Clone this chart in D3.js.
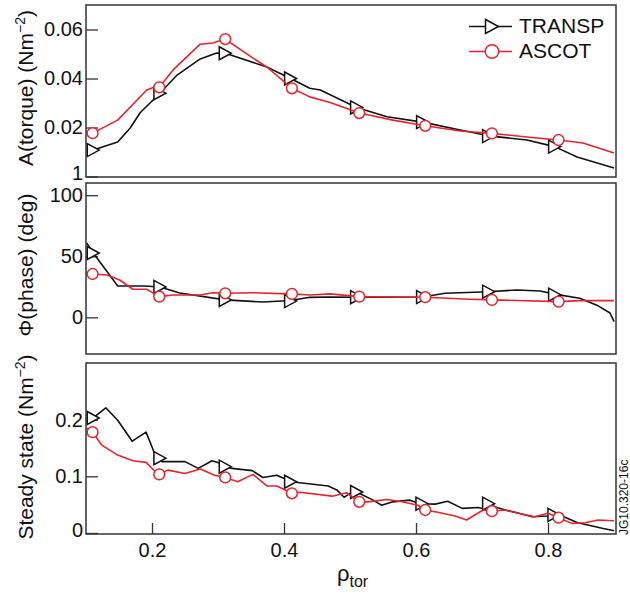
<!DOCTYPE html>
<html><head><meta charset="utf-8">
<script src="https://cdn.jsdelivr.net/npm/d3@7"></script>
<style>
body{margin:0;background:#fff}
text{font-family:"Liberation Sans",Arial,Helvetica,sans-serif;fill:#111}
</style>
</head><body>
<svg id="c" width="630" height="595"></svg>
<script>
// ---------------- data ----------------
const seriesNames = ["TRANSP", "ASCOT"];
const rhoTicks = [0.2, 0.4, 0.6, 0.8];
const rhoTickLabels = ["0.2", "0.4", "0.6", "0.8"];
const torqueTicks = [0, 0.02, 0.04, 0.06];
const torqueTickLabels = ["1", "0.02", "0.04", "0.06"];
const phaseTicks = [0, 50, 100];
const phaseTickLabels = ["0", "50", "100"];
const steadyTicks = [0, 0.1, 0.2];
const steadyTickLabels = ["0", "0.1", "0.2"];

const torqueTRANSP = [[0.101,0.0100],[0.111,0.0108],[0.148,0.0141],[0.167,0.0198],[0.182,0.0260],[0.212,0.0340],[0.238,0.0414],[0.273,0.0480],[0.298,0.0504],[0.311,0.0503],[0.374,0.0447],[0.410,0.0400],[0.439,0.0360],[0.455,0.0353],[0.510,0.0282],[0.556,0.0244],[0.610,0.0222],[0.667,0.0190],[0.710,0.0166],[0.768,0.0149],[0.810,0.0122],[0.844,0.0080],[0.900,0.0035]];
const torqueASCOT = [[0.101,0.0183],[0.110,0.0177],[0.148,0.0230],[0.192,0.0353],[0.204,0.0365],[0.211,0.0364],[0.232,0.0435],[0.273,0.0540],[0.292,0.0545],[0.311,0.0561],[0.353,0.0483],[0.374,0.0447],[0.412,0.0360],[0.439,0.0325],[0.470,0.0302],[0.514,0.0259],[0.565,0.0230],[0.614,0.0207],[0.667,0.0186],[0.715,0.0176],[0.768,0.0161],[0.816,0.0149],[0.853,0.0137],[0.900,0.0096]];
const torqueTRANSPMarks = [[0.111,0.0108],[0.212,0.0340],[0.311,0.0503],[0.410,0.0400],[0.510,0.0282],[0.610,0.0222],[0.710,0.0165],[0.810,0.0122]];
const torqueASCOTMarks = [[0.110,0.0177],[0.211,0.0364],[0.311,0.0561],[0.412,0.0360],[0.514,0.0259],[0.614,0.0207],[0.715,0.0176],[0.816,0.0149]];

const phaseTRANSP = [[0.101,61],[0.111,52.7],[0.148,25.7],[0.189,25.7],[0.212,24.9],[0.242,20],[0.311,14.3],[0.368,12.6],[0.410,13.8],[0.439,16.4],[0.470,16.7],[0.510,16.5],[0.610,16.6],[0.644,19.7],[0.710,21],[0.753,22.4],[0.788,21.6],[0.810,19],[0.848,15.6],[0.874,10],[0.894,3.6],[0.900,-3.5]];
const phaseASCOT = [[0.101,36],[0.110,35.5],[0.132,34.7],[0.151,30.6],[0.171,23],[0.192,23],[0.211,17],[0.232,18.3],[0.273,18.3],[0.292,20.2],[0.311,19.7],[0.353,20.2],[0.405,19.2],[0.412,19.2],[0.439,18.3],[0.470,19.2],[0.514,17],[0.614,16.5],[0.682,14.8],[0.715,14.3],[0.816,12.9],[0.848,13.7],[0.900,13.7]];
const phaseTRANSPMarks = [[0.111,52.7],[0.212,24.9],[0.311,14.3],[0.410,13.3],[0.510,16.5],[0.610,16.6],[0.710,21],[0.810,18.6]];
const phaseASCOTMarks = [[0.110,35.5],[0.211,17],[0.311,19.7],[0.412,19.2],[0.514,17],[0.614,16.5],[0.715,14.3],[0.816,12.9]];

const steadyTRANSP = [[0.101,0.208],[0.111,0.203],[0.130,0.221],[0.148,0.199],[0.170,0.162],[0.191,0.178],[0.203,0.143],[0.212,0.132],[0.215,0.126],[0.250,0.126],[0.270,0.114],[0.291,0.1275],[0.303,0.123],[0.311,0.117],[0.321,0.114],[0.352,0.110],[0.368,0.098],[0.389,0.102],[0.403,0.0947],[0.410,0.0905],[0.424,0.0887],[0.467,0.083],[0.480,0.076],[0.491,0.063],[0.500,0.070],[0.510,0.0723],[0.535,0.058],[0.548,0.049],[0.565,0.055],[0.591,0.058],[0.605,0.052],[0.609,0.0517],[0.629,0.051],[0.648,0.056],[0.670,0.0435],[0.694,0.045],[0.706,0.042],[0.710,0.0517],[0.720,0.046],[0.735,0.0406],[0.753,0.0358],[0.776,0.0288],[0.800,0.030],[0.809,0.032],[0.823,0.029],[0.845,0.018],[0.867,0.0123],[0.882,0.0083],[0.900,0.004]];
const steadyASCOT = [[0.101,0.185],[0.110,0.178],[0.124,0.155],[0.148,0.1375],[0.171,0.1275],[0.191,0.1247],[0.205,0.108],[0.211,0.1035],[0.224,0.111],[0.250,0.105],[0.273,0.113],[0.295,0.102],[0.311,0.098],[0.330,0.0905],[0.353,0.1035],[0.374,0.083],[0.389,0.083],[0.402,0.076],[0.412,0.070],[0.424,0.0718],[0.473,0.065],[0.495,0.071],[0.503,0.064],[0.514,0.055],[0.527,0.055],[0.556,0.059],[0.579,0.055],[0.603,0.049],[0.614,0.0406],[0.633,0.0365],[0.659,0.030],[0.677,0.023],[0.689,0.0317],[0.702,0.0406],[0.715,0.0385],[0.735,0.0406],[0.755,0.0347],[0.780,0.0288],[0.800,0.0347],[0.816,0.027],[0.836,0.017],[0.856,0.018],[0.876,0.023],[0.900,0.0217]];
const steadyTRANSPMarks = [[0.111,0.203],[0.212,0.132],[0.311,0.117],[0.410,0.0905],[0.510,0.0723],[0.609,0.0517],[0.710,0.0517],[0.809,0.032]];
const steadyASCOTMarks = [[0.110,0.178],[0.211,0.1035],[0.311,0.098],[0.412,0.070],[0.514,0.055],[0.614,0.0406],[0.715,0.0385],[0.816,0.027]];

// ---------------- drawing ----------------
const svg = d3.select("#c");
const BLACK = "#111", RED = "#e8232b", FRAME = "#333";
const xLeft = 86, xRight = 616;
const x = d3.scaleLinear().domain([0.1, 0.903]).range([xLeft, xRight]);

const panels = [
  {top:5, bottom:177, yr:[176.5,5], dom:[0,0.07], ticks:torqueTicks, labels:torqueTickLabels,
   t:torqueTRANSP, a:torqueASCOT, tm:torqueTRANSPMarks, am:torqueASCOTMarks,
   title:["A(torque) (Nm","\u22122",")"], tc:88},
  {top:183, bottom:354, yr:[354,183], dom:[-30,110], ticks:phaseTicks, labels:phaseTickLabels,
   t:phaseTRANSP, a:phaseASCOT, tm:phaseTRANSPMarks, am:phaseASCOTMarks,
   title:["\u03A6(phase) (deg)"], tc:265},
  {top:363, bottom:534, yr:[533,363], dom:[0,0.3], ticks:steadyTicks, labels:steadyTickLabels,
   t:steadyTRANSP, a:steadyASCOT, tm:steadyTRANSPMarks, am:steadyASCOTMarks,
   title:["Steady state (Nm","\u22122",")"], tc:447, xaxis:true}
];

const triPath = "M-6,-6.5L6,0L-6,6.5Z";

panels.forEach((p, i) => {
  const y = d3.scaleLinear().domain(p.dom).range(p.yr);
  const g = svg.append("g");
  const cid = "clip" + i;
  svg.append("clipPath").attr("id", cid).append("rect")
    .attr("x", xLeft).attr("y", p.top).attr("width", xRight - xLeft).attr("height", p.bottom - p.top);

  // y axis (ticks inside)
  const lab = d3.scaleOrdinal().domain(p.ticks).range(p.labels);
  const ya = g.append("g").attr("transform", `translate(${xLeft},0)`)
    .call(d3.axisLeft(y).tickValues(p.ticks).tickFormat(d => lab(d)).tickSizeInner(-12).tickSizeOuter(0).tickPadding(3));
  ya.select(".domain").remove();
  ya.selectAll(".tick line").attr("stroke", FRAME).attr("stroke-width", 1.3);
  ya.selectAll(".tick text").attr("font-size", 20).attr("font-family", '"Liberation Sans",Arial,sans-serif').attr("fill", "#111")
    .attr("y", d => (y(d) > p.bottom - 5 ? -(y(d) - (p.bottom - 4)) : 0));

  if (p.xaxis) {
    const xa = g.append("g").attr("transform", `translate(0,${p.bottom})`)
      .call(d3.axisBottom(x).tickValues(rhoTicks).tickFormat((d, k) => rhoTickLabels[k]).tickSizeInner(-11).tickSizeOuter(0).tickPadding(9));
    xa.select(".domain").remove();
    xa.selectAll(".tick line").attr("stroke", FRAME).attr("stroke-width", 1.3);
    xa.selectAll(".tick text").attr("font-size", 20).attr("font-family", '"Liberation Sans",Arial,sans-serif').attr("fill", "#111");
  }

  const line = d3.line().x(d => x(d[0])).y(d => y(d[1]));
  const pl = g.append("g").attr("clip-path", `url(#${cid})`);
  pl.append("path").datum(p.t).attr("d", line).attr("fill", "none").attr("stroke", BLACK).attr("stroke-width", 1.6).attr("stroke-linejoin", "round");
  pl.selectAll(".tri").data(p.tm).join("path").attr("class", "tri")
    .attr("transform", d => `translate(${x(d[0])},${y(d[1])})`).attr("d", triPath)
    .attr("fill", "#fff").attr("stroke", BLACK).attr("stroke-width", 1.5).attr("stroke-linejoin", "miter");
  pl.append("path").datum(p.a).attr("d", line).attr("fill", "none").attr("stroke", RED).attr("stroke-width", 1.6).attr("stroke-linejoin", "round");
  pl.selectAll(".cir").data(p.am).join("circle").attr("class", "cir")
    .attr("cx", d => x(d[0])).attr("cy", d => y(d[1])).attr("r", 5.4)
    .attr("fill", "#fff").attr("stroke", RED).attr("stroke-width", 1.5);

  // frame
  g.append("rect").attr("x", xLeft).attr("y", p.top).attr("width", xRight - xLeft).attr("height", p.bottom - p.top)
    .attr("fill", "none").attr("stroke", FRAME).attr("stroke-width", 1.5);

  // y title
  const tt = svg.append("text").attr("transform", `translate(33,${p.tc}) rotate(-90)`)
    .attr("text-anchor", "middle").attr("font-size", 21);
  tt.append("tspan").text(p.title[0]);
  if (p.title.length > 1) {
    tt.append("tspan").attr("dy", -8).attr("font-size", 14).text(p.title[1]);
    tt.append("tspan").attr("dy", 8).text(p.title[2]);
  }
});

// x title
const xt = svg.append("text").attr("x", 337).attr("y", 581).attr("font-size", 22);
xt.append("tspan").text("\u03C1");
xt.append("tspan").attr("dy", 6).attr("font-size", 16).text("tor");

// legend
const leg = svg.append("g");
const legY = [26.5, 51.5];
leg.append("line").attr("x1", 469).attr("x2", 512).attr("y1", legY[0]).attr("y2", legY[0]).attr("stroke", BLACK).attr("stroke-width", 1.6);
leg.append("path").attr("d", triPath).attr("transform", `translate(492,${legY[0]}) scale(1.08)`)
  .attr("fill", "#fff").attr("stroke", BLACK).attr("stroke-width", 1.4);
leg.append("line").attr("x1", 469).attr("x2", 512).attr("y1", legY[1]).attr("y2", legY[1]).attr("stroke", RED).attr("stroke-width", 1.6);
leg.append("circle").attr("cx", 492).attr("cy", legY[1]).attr("r", 6.8).attr("fill", "#fff").attr("stroke", RED).attr("stroke-width", 1.5);
seriesNames.forEach((n, k) => {
  leg.append("text").attr("x", 519).attr("y", legY[k] + 6.5).attr("font-size", 21).text(n);
});

// side code
svg.append("text").attr("transform", "translate(628,535) rotate(-90)").attr("font-size", 12).text("JG10.320-16c");
</script>
</body></html>
